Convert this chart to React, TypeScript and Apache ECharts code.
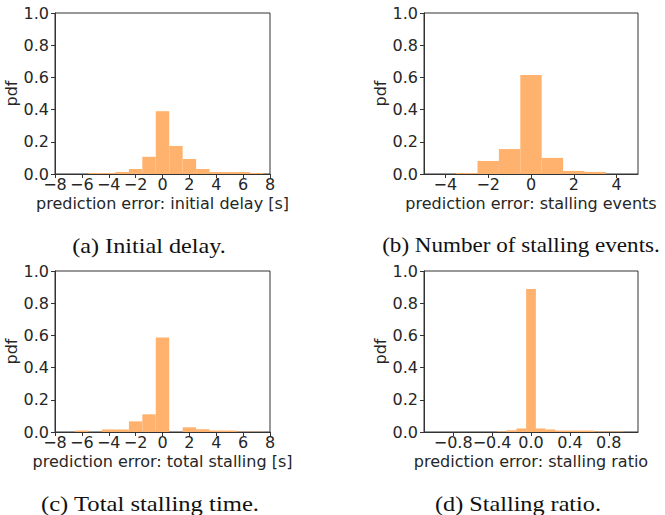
import React, { useEffect, useRef } from "react";
import * as echarts from "echarts";

// (a) initial delay: bin centers [s] and pdf values (bin width 1)
const delayBins = [-5, -4, -3, -2, -1, 0, 1, 2, 3, 4, 5, 6, 7];
const delayPdf = [0.006, 0.006, 0.012, 0.031, 0.107, 0.39, 0.174, 0.093, 0.031, 0.012, 0.012, 0.012, 0.006];

// (b) number of stalling events (bin width 1)
const eventBins = [-3, -2, -1, 0, 1, 2, 3];
const eventPdf = [0.006, 0.081, 0.155, 0.615, 0.1, 0.019, 0.013];

// (c) total stalling time [s] (bin width 1)
const totalBins = [-6, -4, -3, -2, -1, 0, 2, 3, 4, 5, 6, 7];
const totalPdf = [0.009, 0.016, 0.016, 0.066, 0.11, 0.587, 0.029, 0.017, 0.009, 0.009, 0.002, 0.002];

// (d) stalling ratio (bin width 0.1)
const ratioBins = [-0.3, -0.2, -0.1, 0.0, 0.1, 0.2, 0.3, 0.4, 0.5, 0.6, 0.7, 0.8, 0.9];
const ratioPdf = [0.004, 0.011, 0.022, 0.888, 0.022, 0.016, 0.009, 0.009, 0.009, 0.009, 0.003, 0.003, 0.003];

const xTicksA = [-8, -6, -4, -2, 0, 2, 4, 6, 8];
const xTicksB = [-4, -2, 0, 2, 4];
const xTicksD = [-0.8, -0.4, 0.0, 0.4, 0.8];

const xNames = [
  "prediction error: initial delay [s]",
  "prediction error: stalling events",
  "prediction error: total stalling [s]",
  "prediction error: stalling ratio",
];
const captions = [
  "(a) Initial delay.",
  "(b) Number of stalling events.",
  "(c) Total stalling time.",
  "(d) Stalling ratio.",
];

const BAR = "#FFB26E";
const INK = "#262626";
const FONT = "DejaVu Sans";

const fmtMinus = (s: string) => s.replace("-", "\u2212");

export default function App() {
  const ref = useRef<HTMLDivElement>(null);
  useEffect(() => {
    if (!ref.current) return;
    const chart = echarts.init(ref.current, null, { renderer: "svg" });

    const grids = [
      { left: 55, top: 13, width: 215, height: 161 },
      { left: 424, top: 13, width: 214, height: 161 },
      { left: 55, top: 271, width: 215, height: 161 },
      { left: 424, top: 271, width: 214, height: 161 },
    ];
    const ranges = [
      [-8, 8, xTicksA, 0],
      [-5, 5, xTicksB, 0],
      [-8, 8, xTicksA, 0],
      [-1.1, 1.1, xTicksD, 1],
    ] as const;
    const datasets = [
      [delayBins, delayPdf, 1],
      [eventBins, eventPdf, 1],
      [totalBins, totalPdf, 1],
      [ratioBins, ratioPdf, 0.1],
    ] as const;

    const option: any = {
      animation: false,
      grid: grids.map((g) => ({
        ...g,
        show: true,
        borderColor: "#333",
        borderWidth: 1,
        backgroundColor: "transparent",
        containLabel: false,
      })),
      xAxis: ranges.map(([min, max, ticks, dec], i) => ({
        type: "value",
        gridIndex: i,
        min,
        max,
        splitLine: { show: false },
        axisLine: { show: true, onZero: false, lineStyle: { color: "#333", width: 1 } },
        axisTick: {
          show: true,
          inside: false,
          length: 4,
          customValues: ticks as any,
          lineStyle: { color: "#333" },
        },
        axisLabel: {
          show: true,
          margin: 2,
          fontSize: 16,
          lineHeight: 16,
          fontFamily: FONT,
          color: INK,
          customValues: ticks as any,
          formatter: (v: number) => fmtMinus(v.toFixed(dec as number)),
        },
        name: xNames[i],
        nameLocation: "middle",
        nameGap: 21,
        nameTextStyle: { fontSize: 16, lineHeight: 16, fontFamily: FONT, color: INK },
      })),
      yAxis: grids.map((_, i) => ({
        type: "value",
        gridIndex: i,
        min: 0,
        max: 1,
        interval: 0.2,
        splitLine: { show: false },
        axisLine: { show: true, onZero: false, lineStyle: { color: "#333", width: 1 } },
        axisTick: { show: true, inside: false, length: 4, lineStyle: { color: "#333" } },
        axisLabel: {
          margin: 6,
          fontSize: 16,
          fontFamily: FONT,
          color: INK,
          formatter: (v: number) => v.toFixed(1),
        },
        name: "pdf",
        nameLocation: "middle",
        nameGap: 30,
        nameTextStyle: { fontSize: 16, fontFamily: FONT, color: INK },
      })),
      series: datasets.map(([bins, vals, w], i) => ({
        type: "custom",
        xAxisIndex: i,
        yAxisIndex: i,
        data: (bins as readonly number[]).map((b, k) => [b, (vals as readonly number[])[k]]),
        renderItem: (params: any, api: any) => {
          const c = api.value(0);
          const v = api.value(1);
          const p1 = api.coord([c - (w as number) / 2, v]);
          const p2 = api.coord([c + (w as number) / 2, 0]);
          return {
            type: "rect",
            shape: { x: p1[0], y: p1[1], width: p2[0] - p1[0], height: p2[1] - p1[1] },
            style: { fill: BAR },
          };
        },
      })),
      graphic: [
        { x: 149, y: 245, sx: 1.1 },
        { x: 521, y: 245, sx: 1.05 },
        { x: 150, y: 503, sx: 1.12 },
        { x: 518, y: 503, sx: 1.1 },
      ].map((p, i) => ({
        type: "text",
        x: p.x,
        y: p.y,
        scaleX: p.sx,
        style: {
          text: captions[i],
          fontFamily: "Liberation Serif",
          fontSize: 22,
          fill: "#111",
          textAlign: "center",
          textVerticalAlign: "middle",
        },
      })),
    };
    chart.setOption(option);
    return () => chart.dispose();
  }, []);

  return (
    <div
      ref={ref}
      style={{ position: "fixed", left: 0, top: 0, width: 665, height: 515, background: "#fff" }}
    />
  );
}
